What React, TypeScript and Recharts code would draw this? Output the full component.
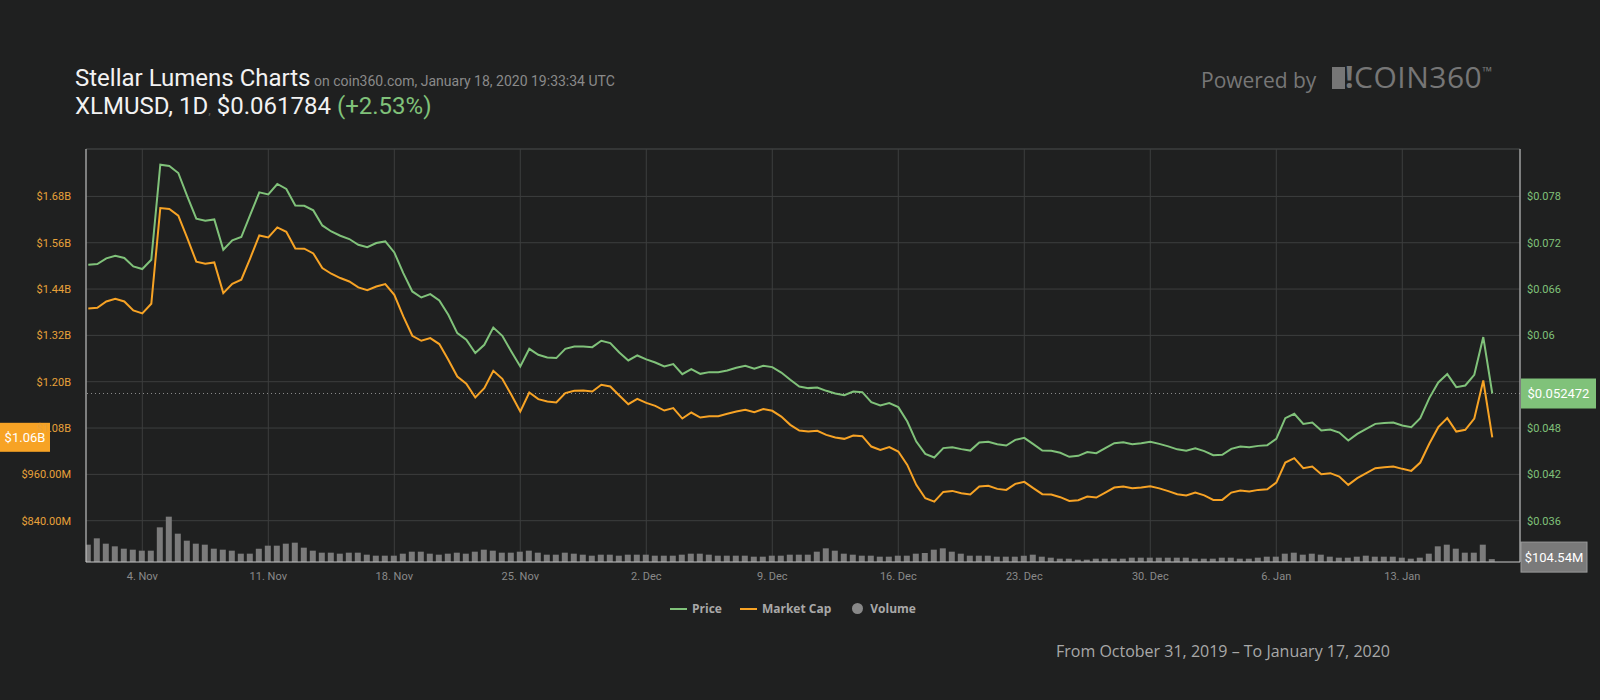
import React from 'react';
import {
  ComposedChart,
  Line,
  Bar,
  XAxis,
  YAxis,
  CartesianGrid,
  ReferenceLine
} from 'recharts';

// half-day steps starting 1 Nov 2019 00:00 UTC
const price = [
  0.06915, 0.06924, 0.06997, 0.07032, 0.07002, 0.06893, 0.06859, 0.0698, 0.08211, 0.08194,
  0.08103, 0.078, 0.07511, 0.07485, 0.07502, 0.07109, 0.0723, 0.07274, 0.07563, 0.07852,
  0.07826, 0.07961, 0.07896, 0.07683, 0.07679, 0.07619, 0.07424, 0.07346, 0.07291, 0.07248,
  0.07174, 0.07142, 0.07196, 0.07217, 0.07074, 0.06807, 0.06569, 0.06491, 0.06535, 0.06452,
  0.06267, 0.0603, 0.05943, 0.05771, 0.05878, 0.06102, 0.05995, 0.05791, 0.05597, 0.05826,
  0.05749, 0.05714, 0.05706, 0.05826, 0.05856, 0.05856, 0.05848, 0.0593, 0.059, 0.05778,
  0.05675, 0.0574, 0.0569, 0.05649, 0.05597, 0.05628, 0.05498, 0.05563, 0.05502, 0.05524,
  0.05524, 0.05545, 0.0558, 0.05606, 0.05567, 0.05606, 0.05589, 0.05519, 0.05425, 0.05338,
  0.05317, 0.05325, 0.05282, 0.05247, 0.05226, 0.05273, 0.05265, 0.05136, 0.05092, 0.05123,
  0.05071, 0.04884, 0.04625, 0.04466, 0.04418, 0.0454, 0.04552, 0.04527, 0.04508, 0.04612,
  0.04621, 0.04591, 0.04573, 0.04647, 0.04673, 0.04591, 0.04508, 0.04505, 0.04479, 0.04427,
  0.0444, 0.04488, 0.04475, 0.0454, 0.04604, 0.04617, 0.04591, 0.04604, 0.04621, 0.04595,
  0.04563, 0.04524, 0.04505, 0.04537, 0.04501, 0.04449, 0.04453, 0.0453, 0.0456, 0.04552,
  0.04569, 0.04578, 0.0466, 0.04928, 0.04984, 0.04854, 0.04871, 0.04768, 0.04781, 0.04742,
  0.04638, 0.04725, 0.0479, 0.04854, 0.04864, 0.04871, 0.04832, 0.04812, 0.04928, 0.05188,
  0.0539, 0.05499, 0.0533, 0.05351, 0.05489, 0.05978, 0.052472
];

// billions USD
const marketCap = [
  1.3897, 1.3915, 1.4079, 1.4149, 1.4079, 1.3845, 1.3768, 1.4019, 1.6499, 1.6474,
  1.63, 1.5722, 1.5108, 1.5056, 1.5089, 1.4296, 1.4537, 1.4641, 1.5204, 1.5789,
  1.5737, 1.5997, 1.5885, 1.5452, 1.5445, 1.5323, 1.4944, 1.4797, 1.4685, 1.4597,
  1.4442, 1.4369, 1.4467, 1.453, 1.4252, 1.369, 1.319, 1.306, 1.313, 1.2975,
  1.2568, 1.2135, 1.1946, 1.1591, 1.1834, 1.2283, 1.2075, 1.1661, 1.1228, 1.172,
  1.1549, 1.1487, 1.1461, 1.1705, 1.1764, 1.1772, 1.1746, 1.192, 1.1876, 1.1642,
  1.1419, 1.1557, 1.1453, 1.1375, 1.1254, 1.1316, 1.1046, 1.1202, 1.1072, 1.1108,
  1.1108, 1.1168, 1.1228, 1.1272, 1.1212, 1.129, 1.1246, 1.1098, 1.0883, 1.0735,
  1.0709, 1.0727, 1.0624, 1.0554, 1.052, 1.0606, 1.059, 1.0321, 1.0235, 1.0305,
  1.0191, 0.9846, 0.9328, 0.8983, 0.8895, 0.9146, 0.9172, 0.9113, 0.9077, 0.9284,
  0.9302, 0.9224, 0.9198, 0.9354, 0.9406, 0.9242, 0.9087, 0.9077, 0.9009, 0.8913,
  0.8931, 0.9025, 0.8999, 0.9128, 0.9258, 0.9284, 0.9242, 0.9258, 0.9294, 0.9237,
  0.9167, 0.9087, 0.9051, 0.9128, 0.9056, 0.8939, 0.8939, 0.9128, 0.918, 0.9154,
  0.9198, 0.9216, 0.9388, 0.9906, 1.002, 0.9761, 0.9802, 0.9605, 0.9631, 0.9543,
  0.9328, 0.9502, 0.9631, 0.9761, 0.9787, 0.9802, 0.9743, 0.9691, 0.9906, 1.0391,
  1.0823, 1.1057, 1.0709, 1.0753, 1.1046, 1.2031, 1.056
];

// millions USD
const volume = [
  624, 852, 660, 564, 480, 444, 408, 408, 1248, 1632,
  1020, 768, 660, 624, 480, 444, 408, 300, 300, 480,
  588, 588, 660, 696, 516, 408, 336, 336, 300, 336,
  336, 264, 228, 228, 228, 300, 372, 372, 300, 264,
  300, 336, 300, 372, 444, 408, 336, 336, 372, 408,
  336, 264, 264, 336, 300, 264, 228, 264, 264, 228,
  264, 264, 264, 228, 228, 228, 264, 300, 300, 264,
  228, 228, 228, 228, 192, 192, 228, 228, 264, 264,
  264, 372, 492, 408, 300, 264, 228, 228, 192, 192,
  228, 228, 300, 324, 444, 492, 372, 300, 228, 228,
  228, 192, 192, 192, 228, 264, 192, 156, 120, 120,
  84, 84, 120, 120, 120, 120, 156, 156, 156, 156,
  156, 156, 156, 120, 120, 120, 156, 156, 120, 120,
  156, 192, 192, 300, 336, 264, 300, 264, 192, 156,
  156, 192, 228, 192, 192, 192, 156, 120, 156, 300,
  564, 624, 480, 336, 336, 624, 104.54
];

const xTicks = [6, 20, 34, 48, 62, 76, 90, 104, 118, 132, 146];
const xTickLabels = ['4. Nov', '11. Nov', '18. Nov', '25. Nov', '2. Dec', '9. Dec', '16. Dec', '23. Dec', '30. Dec', '6. Jan', '13. Jan'];
const mcTicks = [0.84, 0.96, 1.08, 1.2, 1.32, 1.44, 1.56, 1.68];
const priceTicks = [0.036, 0.042, 0.048, 0.06, 0.066, 0.072, 0.078];

const GREEN = '#80c27a';
const ORANGE = '#f7a325';
const BG = '#1f2020';
const GRID = '#3d3e3e';

const mcDomain = [0.733, 1.8028];
const priceDomain = [0.03065, 0.08414];
const volDomain = [0, 14868];

const data = price.map((p, i) => ({ t: i, price: p, mc: marketCap[i], vol: volume[i] }));
const lastPrice = price[price.length - 1];
const lastMc = marketCap[marketCap.length - 1];
const lastVol = volume[volume.length - 1];

const fmtMc = (v: number) => (v >= 1 ? `$${v.toFixed(2)}B` : `$${(v * 1000).toFixed(2)}M`);
const fmtPrice = (v: number) => `$${+v.toFixed(3)}`;

function LeftTick(props: any) {
  return (
    <text x={71} y={props.y} dy={4} textAnchor="end" fill="#e8a23a" fontSize={11} fontFamily="Roboto">
      {fmtMc(props.payload.value)}
    </text>
  );
}

function PriceBadge(props: any) {
  const vb = props.viewBox;
  if (!vb) return null;
  const x = vb.x + vb.width;
  return (
    <g>
      <rect x={x + 1} y={vb.y - 15} width={75} height={30} fill={GREEN} />
      <text x={x + 38.5} y={vb.y + 4.5} textAnchor="middle" fill="#fff" fontSize={13} fontFamily="Roboto">
        {`$${lastPrice}`}
      </text>
    </g>
  );
}

function McBadge(props: any) {
  const vb = props.viewBox;
  if (!vb) return null;
  const x = vb.x - 86;
  return (
    <g>
      <rect x={x} y={vb.y - 14.5} width={50} height={29} fill={ORANGE} />
      <text x={x + 25} y={vb.y + 4.5} textAnchor="middle" fill="#fff" fontSize={13} fontFamily="Roboto">
        {fmtMc(lastMc)}
      </text>
    </g>
  );
}

function VolBadge(props: any) {
  const vb = props.viewBox;
  if (!vb) return null;
  const x = vb.x + vb.width;
  return (
    <g>
      <rect x={x + 1} y={vb.y - 17} width={66} height={30} fill="#7a7a7a" stroke="#9a9a9a" />
      <text x={x + 34} y={vb.y + 2.5} textAnchor="middle" fill="#fff" fontSize={13} fontFamily="Roboto">
        {`$${lastVol.toFixed(2)}M`}
      </text>
    </g>
  );
}

export default function App() {
  return (
    <div style={{ position: 'absolute', left: 0, top: 0, width: 1600, height: 700, background: BG, overflow: 'hidden', fontFamily: 'Roboto' }}>
      <div style={{ position: 'absolute', left: 75, top: 66, whiteSpace: 'nowrap', lineHeight: '24px' }}>
        <span style={{ fontSize: 24, color: '#f2f2f2' }}>Stellar Lumens Charts</span>
        <span style={{ fontSize: 14, color: '#8a8a8a' }}> on coin360.com, January 18, 2020 19:33:34 UTC</span>
      </div>
      <div style={{ position: 'absolute', left: 75, top: 94, whiteSpace: 'nowrap', lineHeight: '24px', fontSize: 24, color: '#f2f2f2' }}>
        XLMUSD, 1D<span style={{ color: '#555', fontSize: 13 }}>,</span> $0.061784 <span style={{ color: GREEN }}>(+2.53%)</span>
      </div>
      <div style={{ position: 'absolute', left: 1201, top: 66, fontFamily: 'Open Sans', fontSize: 21, color: '#777', whiteSpace: 'nowrap' }}>
        Powered by
      </div>
      <div style={{ position: 'absolute', left: 1332, top: 67, width: 13, height: 22, background: '#767676' }} />
      <div style={{ position: 'absolute', left: 1345, top: 56, fontFamily: 'Open Sans', fontSize: 30, lineHeight: 'normal', color: '#767676', whiteSpace: 'nowrap', letterSpacing: 0.5 }}>
        <span style={{ fontWeight: 700 }}>!</span>COIN360<span style={{ fontSize: 13, verticalAlign: 'top', position: 'relative', top: 6 }}>™</span>
      </div>

      <div style={{ position: 'absolute', left: 0, top: 0 }}>
        <ComposedChart width={1600} height={700} data={data} margin={{ top: 149, right: 10, left: 16, bottom: 108 }}>
          <CartesianGrid stroke={GRID} yAxisId="mc" />
          <XAxis
            type="number"
            dataKey="t"
            domain={[-0.256, 159.08]}
            allowDataOverflow
            ticks={xTicks}
            tickFormatter={(v: number) => xTickLabels[xTicks.indexOf(v)]}
            height={30}
            stroke="#bdbdbd"
            tickLine={false}
            tickSize={0}
            tickMargin={10}
            tick={{ fill: '#8a8a8a', fontSize: 11, fontFamily: 'Roboto' }}
          />
          <YAxis
            yAxisId="mc"
            orientation="left"
            domain={mcDomain}
            allowDataOverflow
            ticks={mcTicks}
            width={70}
            stroke="#cfcfcf"
            tickLine={false}
            tickSize={0}
            tick={<LeftTick />}
          />
          <YAxis
            yAxisId="price"
            orientation="right"
            domain={priceDomain}
            allowDataOverflow
            ticks={priceTicks}
            tickFormatter={fmtPrice}
            width={70}
            stroke="#cfcfcf"
            tickLine={false}
            tickSize={0}
            tickMargin={7}
            tick={{ fill: GREEN, fontSize: 11, fontFamily: 'Roboto', textAnchor: 'start' }}
          />
          <YAxis yAxisId="vol" hide domain={volDomain} allowDataOverflow />
          <ReferenceLine yAxisId="mc" y={mcDomain[1]} stroke={GRID} />
          <Bar yAxisId="vol" dataKey="vol" fill="#7b7b7b" barSize={6} isAnimationActive={false} />
          <ReferenceLine yAxisId="price" y={lastPrice} stroke="#8a8a8a" strokeDasharray="1 3" label={<PriceBadge />} />
          <Line yAxisId="mc" type="linear" dataKey="mc" stroke={ORANGE} strokeWidth={2} dot={false} isAnimationActive={false} />
          <Line yAxisId="price" type="linear" dataKey="price" stroke={GREEN} strokeWidth={2} dot={false} isAnimationActive={false} />
          <ReferenceLine yAxisId="mc" y={lastMc} stroke="none" label={<McBadge />} />
          <ReferenceLine yAxisId="vol" y={lastVol} stroke="none" label={<VolBadge />} />
        </ComposedChart>
      </div>

      <div style={{ position: 'absolute', left: 670, top: 600, display: 'flex', alignItems: 'center', fontFamily: 'Open Sans', fontWeight: 700, fontSize: 12, color: '#a8a8a8', whiteSpace: 'nowrap' }}>
        <span style={{ display: 'inline-block', width: 17, height: 2, background: GREEN, marginRight: 5 }} />
        <span>Price</span>
        <span style={{ display: 'inline-block', width: 17, height: 2, background: ORANGE, marginLeft: 18, marginRight: 5 }} />
        <span>Market Cap</span>
        <span style={{ display: 'inline-block', width: 11, height: 11, borderRadius: '50%', background: '#888', marginLeft: 21, marginRight: 7 }} />
        <span>Volume</span>
      </div>
      <div style={{ position: 'absolute', left: 1056, top: 640, fontFamily: 'Open Sans', fontSize: 16, color: '#a8a8a8', whiteSpace: 'nowrap' }}>
        From October 31, 2019 – To January 17, 2020
      </div>
    </div>
  );
}
